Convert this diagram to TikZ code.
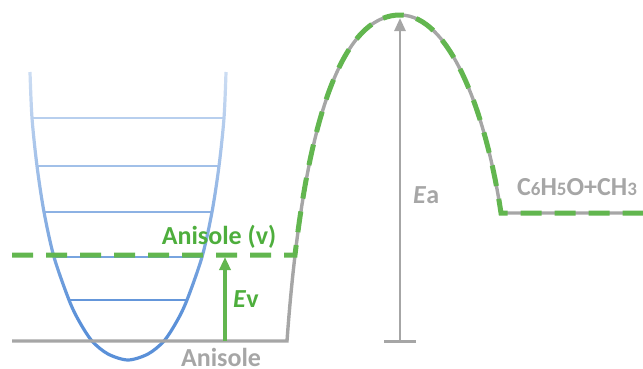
\documentclass[tikz,border=0pt]{standalone}
\usepackage{fontspec}
\setmainfont{Carlito}
\usetikzlibrary{arrows.meta,fadings}
\definecolor{wellblue}{HTML}{5A90D8}
\definecolor{pathgreen}{HTML}{62B64F}
\definecolor{textgreen}{HTML}{4EAE3D}
\definecolor{energygray}{HTML}{A6A6A6}
\tikzfading[name=wellfade,top color=transparent!28,bottom color=transparent!100]
\newcommand{\lowdigit}[1]{{\fontsize{19}{20}\selectfont #1}}

\begin{document}
\begin{tikzpicture}[x=1pt,y=-1pt,
    lbl/.style={font=\fontsize{26}{28}\selectfont\bfseries,inner sep=0pt},
    wellline/.style={wellblue,line width=2.8pt},
    energyline/.style={energygray,line width=3.4pt},
    vibdash/.style={pathgreen,line width=5pt,dash pattern=on 21pt off 13pt}]
    \useasboundingbox (0,0) rectangle (643,368);
    \begin{scope}
      \clip plot[smooth] coordinates {(30,72) (32,118) (37,166) (44,212) (54,257) (69,300) (79,321) (92,341) (108,354) (128,360) (148,354) (164,341) (177,321) (187,300) (202,257) (212,212) (219,166) (224,118) (226,72)} -- cycle;
      \foreach \ly in {118,166,212,257,300}
        \draw[wellline] (20,\ly) -- (240,\ly);
    \end{scope}
    \draw[wellline,line width=3.2pt] plot[smooth] coordinates {(30,72) (32,118) (37,166) (44,212) (54,257) (69,300) (79,321) (92,341) (108,354) (128,360) (148,354) (164,341) (177,321) (187,300) (202,257) (212,212) (219,166) (224,118) (226,72)};
    \fill[white,path fading=wellfade] (22,64) rectangle (236,322);
    \draw[energyline] (12,341) -- (287,341) .. controls (303,120) and (342,15) .. (400,15)
      .. controls (450,15) and (486,113) .. (501,213) -- (643,213);
    \draw[vibdash] (12,255) -- (295,255) .. controls (314,93) and (350,15) .. (400,15)
      .. controls (450,15) and (486,113) .. (501,213) -- (643,213);
    \coordinate (eabot) at (400,343);
    \coordinate (eatop) at (400,18);
    \draw[energygray,line width=2.6pt,{Bar[width=32pt]}-{Triangle[length=13pt,width=11pt]}] (eabot) -- (eatop);
    \coordinate (evbot) at (225,341);
    \coordinate (evtop) at (225,257);
    \draw[pathgreen,line width=3.2pt,-{Triangle[length=13pt,width=11pt]}] (evbot) -- (evtop);
    \node[lbl,text=energygray,anchor=base] (ground) at (221,366) {Anisole};
    \node[lbl,text=textgreen,anchor=base] (excited) at (219,244) {Anisole (v)};
    \node[lbl,text=textgreen,anchor=base west] (evlabel) at (233,307) {\textit{E}v};
    \node[lbl,text=energygray,anchor=base west] (ealabel) at (413,203) {\textit{E}a};
    \node[lbl,text=energygray,anchor=base west] (products) at (517,195) {C\lowdigit{6}H\lowdigit{5}O+CH\lowdigit{3}};
\end{tikzpicture}
\end{document}
